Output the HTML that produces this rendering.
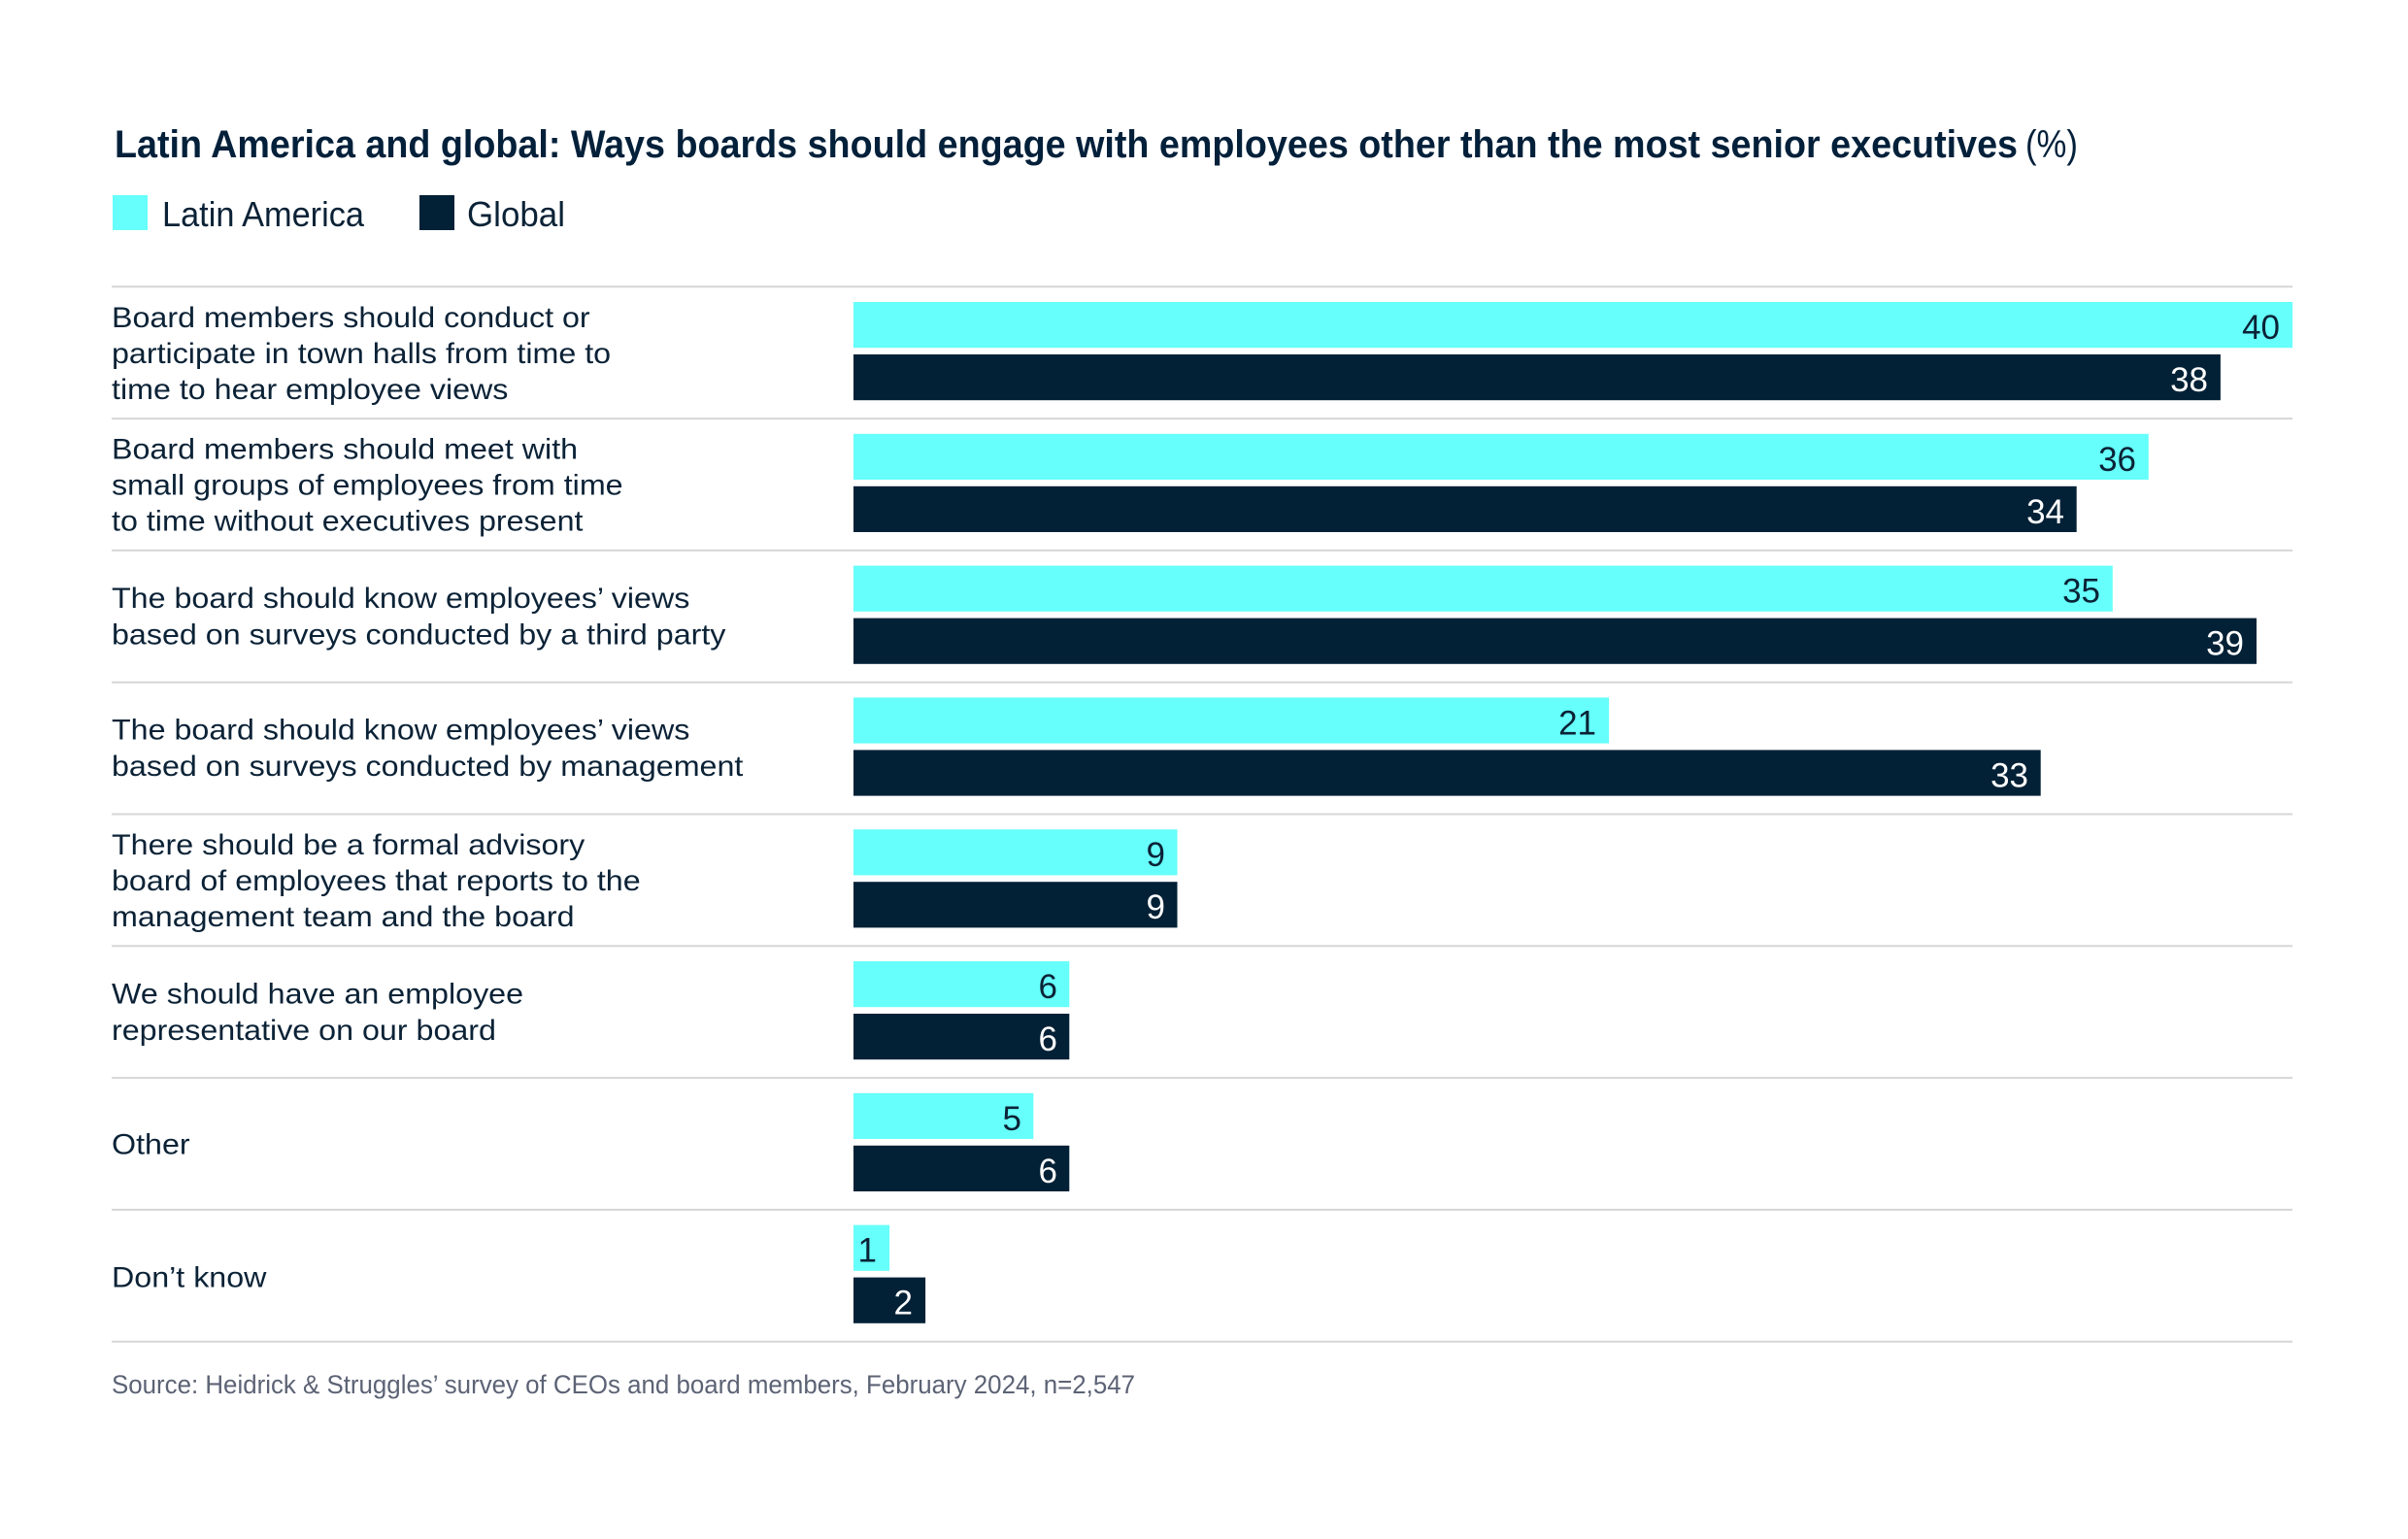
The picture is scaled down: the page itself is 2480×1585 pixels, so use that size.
<!DOCTYPE html>
<html>
<head>
<meta charset="utf-8">
<style>
  html, body { margin:0; padding:0; background:#ffffff; }
  svg { display:block; }
  text { font-family: "Liberation Sans", "DejaVu Sans", sans-serif; }
</style>
</head>
<body>
<svg width="2480" height="1585" viewBox="0 0 2480 1585" xmlns="http://www.w3.org/2000/svg">
  <rect x="0" y="0" width="2480" height="1585" fill="#ffffff"/>

  <!-- Title -->
  <text x="118" y="162" font-size="39.5" font-weight="bold" fill="#03203a" textLength="1960" lengthAdjust="spacingAndGlyphs">Latin America and global: Ways boards should engage with employees other than the most senior executives</text>
  <text x="2086" y="162" font-size="39.5" fill="#03203a" textLength="54" lengthAdjust="spacingAndGlyphs">(%)</text>

  <!-- Legend -->
  <rect x="116" y="201" width="36" height="36" fill="#66fffb"/>
  <text x="167" y="233" font-size="36" fill="#0b2236" textLength="208" lengthAdjust="spacingAndGlyphs">Latin America</text>
  <rect x="432" y="201" width="36" height="36" fill="#032136"/>
  <text x="481" y="233" font-size="36" fill="#0b2236" textLength="101" lengthAdjust="spacingAndGlyphs">Global</text>

  <!-- Row separator lines -->
  <g stroke="#d6d6d6" stroke-width="2">
    <line x1="115" y1="295.3" x2="2361" y2="295.3"/>
    <line x1="115" y1="431.1" x2="2361" y2="431.1"/>
    <line x1="115" y1="566.9" x2="2361" y2="566.9"/>
    <line x1="115" y1="702.7" x2="2361" y2="702.7"/>
    <line x1="115" y1="838.5" x2="2361" y2="838.5"/>
    <line x1="115" y1="974.3" x2="2361" y2="974.3"/>
    <line x1="115" y1="1110.1" x2="2361" y2="1110.1"/>
    <line x1="115" y1="1245.9" x2="2361" y2="1245.9"/>
    <line x1="115" y1="1381.7" x2="2361" y2="1381.7"/>
  </g>

  <!-- Category labels -->
  <g transform="translate(115 0) scale(1.075 1)" font-size="30" fill="#0b2236">
    <!-- Row 1 L=295.3 -->
    <text x="0" y="336.8">Board members should conduct or</text>
    <text x="0" y="373.8">participate in town halls from time to</text>
    <text x="0" y="410.8">time to hear employee views</text>
    <!-- Row 2 L=431.1 -->
    <text x="0" y="472.6">Board members should meet with</text>
    <text x="0" y="509.6">small groups of employees from time</text>
    <text x="0" y="546.6">to time without executives present</text>
    <!-- Row 3 L=566.9 -->
    <text x="0" y="625.9">The board should know employees’ views</text>
    <text x="0" y="663.4">based on surveys conducted by a third party</text>
    <!-- Row 4 L=702.7 -->
    <text x="0" y="761.7">The board should know employees’ views</text>
    <text x="0" y="799.2">based on surveys conducted by management</text>
    <!-- Row 5 L=838.5 -->
    <text x="0" y="880">There should be a formal advisory</text>
    <text x="0" y="917">board of employees that reports to the</text>
    <text x="0" y="954">management team and the board</text>
    <!-- Row 6 L=974.3 -->
    <text x="0" y="1033.3">We should have an employee</text>
    <text x="0" y="1070.8">representative on our board</text>
    <!-- Row 7 L=1110.1 -->
    <text x="0" y="1188.3">Other</text>
    <!-- Row 8 L=1245.9 -->
    <text x="0" y="1325.5">Don’t know</text>
  </g>

  <!-- Bars: x0=879, unit=37.05 -->
  <g>
    <!-- Row 1 -->
    <rect x="879" y="311" width="1482" height="47.2" fill="#66fffb"/>
    <rect x="879" y="365" width="1407.9" height="47.2" fill="#032136"/>
    <!-- Row 2 -->
    <rect x="879" y="446.8" width="1333.8" height="47.2" fill="#66fffb"/>
    <rect x="879" y="500.8" width="1259.7" height="47.2" fill="#032136"/>
    <!-- Row 3 -->
    <rect x="879" y="582.6" width="1296.8" height="47.2" fill="#66fffb"/>
    <rect x="879" y="636.6" width="1445" height="47.2" fill="#032136"/>
    <!-- Row 4 -->
    <rect x="879" y="718.4" width="778.1" height="47.2" fill="#66fffb"/>
    <rect x="879" y="772.4" width="1222.7" height="47.2" fill="#032136"/>
    <!-- Row 5 -->
    <rect x="879" y="854.2" width="333.5" height="47.2" fill="#66fffb"/>
    <rect x="879" y="908.2" width="333.5" height="47.2" fill="#032136"/>
    <!-- Row 6 -->
    <rect x="879" y="990" width="222.3" height="47.2" fill="#66fffb"/>
    <rect x="879" y="1044" width="222.3" height="47.2" fill="#032136"/>
    <!-- Row 7 -->
    <rect x="879" y="1125.8" width="185.3" height="47.2" fill="#66fffb"/>
    <rect x="879" y="1179.8" width="222.3" height="47.2" fill="#032136"/>
    <!-- Row 8 -->
    <rect x="879" y="1261.6" width="37.1" height="47.2" fill="#66fffb"/>
    <rect x="879" y="1315.6" width="74.1" height="47.2" fill="#032136"/>
  </g>

  <!-- Value labels -->
  <g font-size="35" text-anchor="end">
    <text x="2348" y="349" fill="#0b2236">40</text>
    <text x="2274" y="403" fill="#ffffff">38</text>

    <text x="2200" y="484.8" fill="#0b2236">36</text>
    <text x="2126" y="538.8" fill="#ffffff">34</text>

    <text x="2163" y="620.6" fill="#0b2236">35</text>
    <text x="2311" y="674.6" fill="#ffffff">39</text>

    <text x="1644" y="756.4" fill="#0b2236">21</text>
    <text x="2089" y="810.4" fill="#ffffff">33</text>

    <text x="1200" y="892.2" fill="#0b2236">9</text>
    <text x="1200" y="946.2" fill="#ffffff">9</text>

    <text x="1089" y="1028" fill="#0b2236">6</text>
    <text x="1089" y="1082" fill="#ffffff">6</text>

    <text x="1052" y="1163.8" fill="#0b2236">5</text>
    <text x="1089" y="1217.8" fill="#ffffff">6</text>

    <text x="903" y="1299.6" fill="#0b2236">1</text>
    <text x="940" y="1353.6" fill="#ffffff">2</text>
  </g>

  <!-- Source -->
  <text x="115" y="1435" font-size="26.5" fill="#5c6375" textLength="1054" lengthAdjust="spacingAndGlyphs">Source: Heidrick &amp; Struggles’ survey of CEOs and board members, February 2024, n=2,547</text>
</svg>
</body>
</html>
